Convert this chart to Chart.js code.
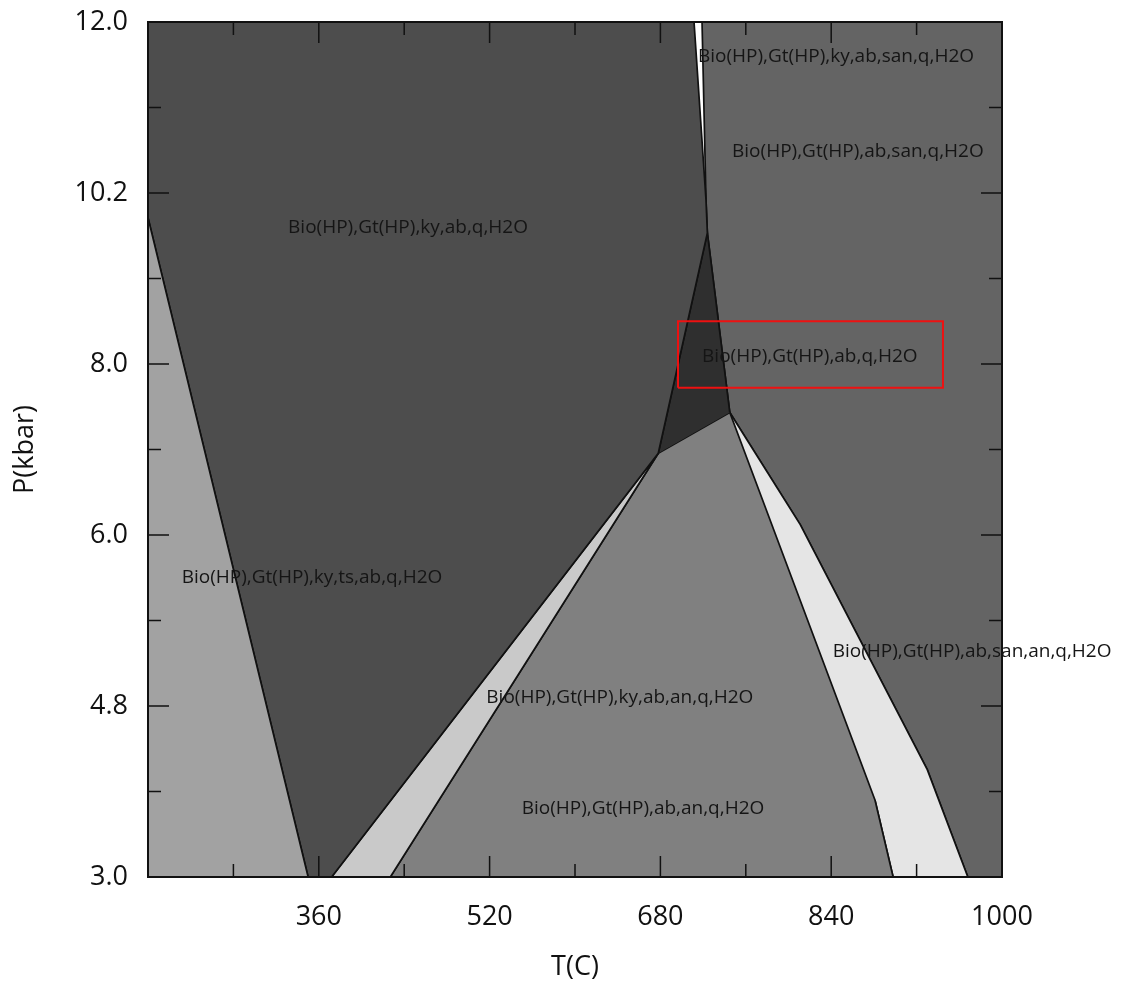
<!DOCTYPE html>
<html>
<head>
<meta charset="utf-8">
<script src="https://cdn.jsdelivr.net/npm/chart.js@4.4.1/dist/chart.umd.min.js"></script>
<style>
  body { margin: 0; background: #fff; }
  #wrap { width: 1125px; height: 986px; }
</style>
</head>
<body>
<div id="wrap"><canvas id="myChart"></canvas></div>
<script>
// axis ticks
const xTicks = [200, 280, 360, 440, 520, 600, 680, 760, 840, 920, 1000];
const xTickLabels = ['', '', '360', '', '520', '', '680', '', '840', '', '1000'];
const yTicks = [3.0, 3.9, 4.8, 5.7, 6.6, 7.5, 8.4, 9.3, 10.2, 11.1, 12.0];
const yTickLabels = ['3.0', '', '4.8', '', '6.0', '', '8.0', '', '10.2', '', '12.0'];

// field outlines, [T, P]
const leftLight = [[200, 9.94], [350, 3], [200, 3]];
const darkTopLeft = [[200, 12], [711.5, 12], [722.7, 10.13], [724, 9.78], [678, 7.46], [372, 3], [350, 3], [200, 9.94]];
const stripLeft = [[372, 3], [678, 7.46], [427, 3]];
const smallDark = [[678, 7.46], [724, 9.78], [745, 7.89]];
const middle = [[427, 3], [678, 7.46], [745, 7.89], [881, 3.81], [898, 3]];
const stripRight = [[745, 7.89], [811, 6.71], [930, 4.13], [968, 3], [898, 3], [881, 3.81]];
const stripTop = [[711.5, 12], [719, 12], [722.7, 10.13]];
const rightField = [[719, 12], [1000, 12], [1000, 3], [968, 3], [930, 4.13], [811, 6.71], [745, 7.89], [724, 9.78], [722.7, 10.13]];

const fields = [leftLight, darkTopLeft, stripLeft, smallDark, middle, stripRight, stripTop, rightField];
const fieldColors = ['#a2a2a2', '#4d4d4d', '#c9c9c9', '#2f2f2f', '#808080', '#e5e5e5', '#ffffff', '#646464'];

// field names and where they sit
const labelText = [
  'Bio(HP),Gt(HP),ky,ab,san,q,H2O',
  'Bio(HP),Gt(HP),ab,san,q,H2O',
  'Bio(HP),Gt(HP),ky,ab,q,H2O',
  'Bio(HP),Gt(HP),ab,q,H2O',
  'Bio(HP),Gt(HP),ky,ts,ab,q,H2O',
  'Bio(HP),Gt(HP),ab,san,an,q,H2O',
  'Bio(HP),Gt(HP),ky,ab,an,q,H2O',
  'Bio(HP),Gt(HP),ab,an,q,H2O'
];
const labelT = [844.5, 865, 443.6, 820, 353.6, 972, 642, 663.7];
const labelP = [11.64, 10.64, 9.84, 8.48, 6.15, 5.37, 4.89, 3.72];

// red box around the ab,q,H2O field
const boxT = [696.5, 944.7];
const boxP = [8.15, 8.85];

function toPoints(poly) {
  return poly.map(p => ({ x: p[0], y: p[1] }));
}

let datasets = [];
for (let i = 0; i < fields.length; i++) {
  datasets.push({
    data: toPoints(fields[i]),
    backgroundColor: fieldColors[i],
    borderColor: '#111',
    borderWidth: 1.7,
    fill: 'shape',
    pointRadius: 0,
    tension: 0,
    order: 1
  });
}
datasets.push({
  data: [
    { x: boxT[0], y: boxP[0] }, { x: boxT[1], y: boxP[0] },
    { x: boxT[1], y: boxP[1] }, { x: boxT[0], y: boxP[1] },
    { x: boxT[0], y: boxP[0] }
  ],
  borderColor: '#ee1111',
  borderWidth: 2,
  fill: false,
  pointRadius: 0,
  tension: 0,
  order: 0
});

const decor = {
  id: 'decor',
  afterDatasetsDraw(chart) {
    const ctx = chart.ctx;
    const xs = chart.scales.x, ys = chart.scales.y;
    const a = chart.chartArea;
    ctx.save();
    // labels
    ctx.fillStyle = '#151515';
    ctx.font = '19px "Open Sans"';
    ctx.textAlign = 'center';
    ctx.textBaseline = 'middle';
    for (let i = 0; i < labelText.length; i++) {
      ctx.fillText(labelText[i], xs.getPixelForValue(labelT[i]), ys.getPixelForValue(labelP[i]));
    }
    // inward ticks on all four sides
    ctx.strokeStyle = '#111';
    ctx.lineWidth = 1.5;
    ctx.beginPath();
    for (let i = 1; i < xTicks.length - 1; i++) {
      const px = xs.getPixelForValue(xTicks[i]);
      const len = xTickLabels[i] ? 21 : 13;
      ctx.moveTo(px, a.bottom); ctx.lineTo(px, a.bottom - len);
      ctx.moveTo(px, a.top); ctx.lineTo(px, a.top + len);
    }
    for (let i = 1; i < yTicks.length - 1; i++) {
      const py = ys.getPixelForValue(yTicks[i]);
      const len = yTickLabels[i] ? 21 : 13;
      ctx.moveTo(a.left, py); ctx.lineTo(a.left + len, py);
      ctx.moveTo(a.right, py); ctx.lineTo(a.right - len, py);
    }
    ctx.stroke();
    ctx.lineWidth = 2;
    ctx.strokeRect(a.left, a.top, a.right - a.left, a.bottom - a.top);
    ctx.restore();
  }
};

const tickFont = { family: 'Open Sans', size: 27 };

new Chart(document.getElementById('myChart'), {
  type: 'line',
  data: { datasets: datasets },
  options: {
    responsive: true,
    maintainAspectRatio: false,
    animation: false,
    layout: { padding: { left: 0, top: 22, right: 123, bottom: 0 } },
    plugins: { legend: { display: false }, tooltip: { enabled: false } },
    scales: {
      x: {
        type: 'linear',
        min: 200, max: 1000,
        grid: { display: false },
        border: { display: false },
        afterBuildTicks: s => { s.ticks = xTicks.map(v => ({ value: v })); },
        afterFit: s => { s.height = 109; s.paddingLeft = 0; s.paddingRight = 0; },
        ticks: {
          autoSkip: false, maxRotation: 0, padding: 16,
          color: '#111', font: tickFont,
          callback: (v, i) => xTickLabels[i]
        },
        title: { display: true, text: 'T(C)', color: '#111', font: tickFont, padding: { top: 0, bottom: 2 } }
      },
      y: {
        type: 'linear',
        min: 3, max: 12,
        grid: { display: false },
        border: { display: false },
        afterBuildTicks: s => { s.ticks = yTicks.map(v => ({ value: v })); },
        afterFit: s => { s.width = 148; s.paddingTop = 0; s.paddingBottom = 0; },
        ticks: {
          autoSkip: false, padding: 12,
          color: '#111', font: tickFont,
          callback: (v, i) => yTickLabels[i]
        },
        title: { display: true, text: 'P(kbar)', color: '#111', font: tickFont, padding: { top: 9, bottom: 0 } }
      }
    }
  },
  plugins: [decor]
});
</script>
</body>
</html>
